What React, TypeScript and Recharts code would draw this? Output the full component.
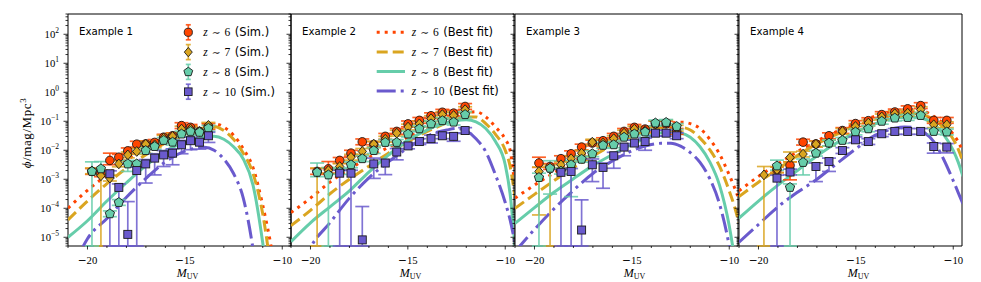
import React from 'react';
import { ComposedChart, Line, Scatter, ErrorBar, XAxis, YAxis, ReferenceArea, Legend } from 'recharts';

// ---- axes ----
const Y_MIN = 5e-6;
const Y_MAX = 500;
const X_MIN = -21;
const X_MAX = -9.55;
const X_TICKS = [-21, -20, -19, -18, -17, -16, -15, -14, -13, -12, -11, -10];
const X_MAJOR = [-20, -15, -10];
const Y_DECADES = [-6, -5, -4, -3, -2, -1, 0, 1, 2];

// ---- best-fit curves: log10(phi) on a shared magnitude grid ----
const FIT_M = [-21, -20, -19, -18, -17, -16, -15, -14, -13.5, -13, -12.5, -12, -11.5, -11, -10.5, -10, -9.75, -9.5];

const fit1z6 = [-4.0, -3.38, -2.85, -2.35, -1.92, -1.55, -1.3, -1.1, -1.08, -1.2, -1.48, -1.95, -2.6, -3.9, -5.6, -8, -9, -10];
const fit1z7 = [-4.4, -3.75, -3.15, -2.62, -2.15, -1.75, -1.45, -1.22, -1.18, -1.32, -1.62, -2.1, -2.8, -4.2, -6.5, -9, -10, -11];
const fit1z8 = [-5.0, -4.43, -3.75, -3.12, -2.53, -2.03, -1.73, -1.55, -1.52, -1.62, -1.88, -2.3, -3.2, -5.2, -8, -10, -11, -12];
const fit1z10 = [-6.5, -5.05, -4.35, -3.62, -2.97, -2.4, -2.03, -1.9, -2.0, -2.3, -2.8, -3.65, -5.4, -8, -10, -12, -13, -14];

const fit2z6 = [-4.15, -3.65, -3.1, -2.65, -2.25, -1.9, -1.55, -1.25, -1.1, -0.95, -0.82, -0.72, -0.67, -0.85, -1.2, -1.62, -2.0, -3.3];
const fit2z7 = [-4.6, -4.07, -3.5, -3.0, -2.55, -2.1, -1.7, -1.35, -1.2, -1.05, -0.93, -0.85, -0.85, -1.08, -1.45, -2.0, -2.55, -3.6];
const fit2z8 = [-5.15, -4.5, -3.95, -3.4, -2.75, -2.17, -1.65, -1.3, -1.15, -1.05, -0.97, -0.95, -1.02, -1.25, -1.7, -2.5, -3.5, -5.3];
const fit2z10 = [-7, -5.35, -4.5, -3.65, -2.95, -2.4, -1.92, -1.52, -1.38, -1.3, -1.25, -1.33, -1.6, -2.05, -2.85, -3.8, -4.4, -5.2];

const fit3z6 = [-3.65, -3.2, -2.78, -2.4, -2.03, -1.7, -1.42, -1.2, -1.12, -1.06, -1.03, -1.08, -1.25, -1.62, -2.13, -2.85, -3.25, -3.7];
const fit3z7 = [-4.0, -3.52, -3.05, -2.6, -2.2, -1.83, -1.52, -1.3, -1.22, -1.18, -1.2, -1.3, -1.58, -1.98, -2.55, -3.4, -3.9, -4.5];
const fit3z8 = [-4.52, -3.98, -3.45, -2.98, -2.53, -2.15, -1.8, -1.5, -1.4, -1.36, -1.4, -1.55, -1.88, -2.4, -3.2, -4.6, -5.6, -6.5];
const fit3z10 = [-5.5, -4.73, -4.02, -3.38, -2.8, -2.37, -2.02, -1.8, -1.76, -1.76, -1.86, -2.08, -2.42, -2.98, -3.85, -5.3, -6.3, -7.5];

const fit4z6 = [-3.4, -2.9, -2.47, -2.05, -1.68, -1.36, -1.07, -0.82, -0.72, -0.65, -0.6, -0.6, -0.65, -0.83, -1.08, -1.45, -1.7, -2.05];
const fit4z7 = [-3.6, -3.1, -2.65, -2.18, -1.78, -1.45, -1.15, -0.92, -0.83, -0.77, -0.72, -0.72, -0.78, -0.95, -1.22, -1.62, -1.95, -2.4];
const fit4z8 = [-4.34, -3.75, -3.2, -2.7, -2.2, -1.75, -1.38, -1.08, -0.97, -0.9, -0.86, -0.85, -0.92, -1.1, -1.45, -2.0, -2.4, -2.9];
const fit4z10 = [-5.17, -4.56, -3.95, -3.45, -3.0, -2.47, -1.95, -1.48, -1.33, -1.24, -1.2, -1.22, -1.38, -1.7, -2.3, -3.05, -3.45, -3.85];

// ---- simulated points: bin centres and log10(phi) ----
const bins1 = [-19.77, -19.31, -18.85, -18.39, -17.93, -17.47, -17.01, -16.55, -16.09, -15.63, -15.17, -14.71, -14.25, -13.79];
const sim1z6 = [-2.73, -2.81, -2.35, -2.24, -2.02, -1.79, -1.78, -1.73, -1.55, -1.5, -1.15, -1.21, -1.35, -1.18];
const sim1z7 = [-2.71, -2.88, -2.96, -2.47, -2.16, -2.04, -1.79, -1.81, -1.58, -1.52, -1.27, -1.27, -1.35, -1.14];
const sim1z8 = [-2.73, -2.64, -4.19, -3.8, -2.47, -2.47, -2.01, -1.87, -1.66, -1.72, -1.44, -1.35, -1.38, -1.24];
const sim1z10 = [null, null, -2.81, -3.28, -4.9, -2.7, -2.47, -2.27, -2.16, -2.1, -1.81, -1.67, -1.72, -1.5];

const bins2 = [-19.66, -19.08, -18.5, -17.92, -17.34, -16.75, -16.16, -15.57, -14.99, -14.41, -13.81, -13.23, -12.65, -12.06];
const sim2z6 = [-2.73, -2.64, -2.35, -2.1, -1.71, -1.8, -1.52, -1.35, -1.09, -0.97, -0.81, -0.69, -0.72, -0.49];
const sim2z7 = [-2.76, -2.7, -2.56, -2.24, -2.04, -1.79, -1.62, -1.41, -1.2, -1.09, -0.91, -0.77, -0.8, -0.6];
const sim2z8 = [-2.76, -2.85, -2.73, -2.5, -2.29, -2.01, -1.73, -1.73, -1.44, -1.26, -1.09, -0.98, -1.03, -0.77];
const sim2z10 = [null, null, -2.79, -2.79, -5.09, -2.47, -2.44, -2.06, -1.85, -1.7, -1.6, -1.5, -1.52, -1.32];

const bins3 = [-19.77, -19.2, -18.64, -18.12, -17.58, -17.03, -16.48, -15.93, -15.4, -14.87, -14.32, -13.79, -13.24, -12.7];
const sim3z6 = [-2.44, -2.56, -2.29, -2.12, -1.89, -1.75, -1.67, -1.52, -1.35, -1.21, -1.27, -1.09, -1.09, -1.35];
const sim3z7 = [-2.73, -2.65, -2.5, -2.29, -2.1, -1.72, -1.75, -1.6, -1.41, -1.27, -1.32, -1.09, -1.06, -1.24];
const sim3z8 = [-2.94, -2.62, -2.72, -2.5, -2.31, -2.12, -1.83, -1.81, -1.55, -1.44, -1.37, -1.06, -1.04, -1.18];
const sim3z10 = [null, null, -2.76, -2.73, -4.75, -2.5, -2.59, -2.19, -1.89, -1.75, -1.7, -1.41, -1.41, -1.5];

const bins4 = [-19.72, -19.05, -18.38, -17.71, -17.05, -16.38, -15.69, -15.02, -14.36, -13.67, -13.0, -12.34, -11.67, -11.0, -10.33];
const sim4z6 = [null, -2.67, -2.52, -1.72, -1.78, -1.5, -1.32, -1.08, -0.98, -0.77, -0.68, -0.57, -0.46, -0.97, -0.97];
const sim4z7 = [-2.85, -2.67, -2.25, -2.13, -1.79, -1.75, -1.35, -1.18, -1.06, -0.85, -0.74, -0.72, -0.6, -1.12, -1.12];
const sim4z8 = [null, -2.54, -3.28, -2.42, -2.1, -1.75, -1.66, -1.37, -1.26, -1.0, -0.89, -0.87, -0.8, -1.35, -1.37];
const sim4z10 = [null, -2.96, -2.75, null, -2.56, -2.39, -2.01, -1.64, -1.7, -1.43, -1.35, -1.35, -1.35, -1.87, -1.89];

// ---- error bars that differ from the default: [series, bin, down dex, up dex]; 9 = down to zero ----
const errs1 = [
  ['z6', 2, 0.15, 0.25], ['z7', 1, 9, 0.2], ['z8', 0, 9, 0.33], ['z8', 1, 0.2, 0.25], ['z8', 4, 0.26, 0.12],
  ['z10', 2, 9, 0.1], ['z10', 3, 9, 0.12], ['z10', 4, 9, 1.13], ['z10', 5, 9, 0.12], ['z10', 6, 0.66, 0.15],
  ['z10', 7, 0.58, 0.15], ['z10', 8, 0.4, 0.15], ['z10', 9, 0.4, 0.15], ['z10', 10, 0.31, 0.15],
  ['z10', 11, 0.31, 0.12], ['z10', 12, 0.24, 0.12], ['z10', 13, 0.23, 0.12],
];
const errs2 = [
  ['z6', 1, 0.15, 0.25], ['z7', 0, 9, 0.15], ['z8', 0, 0.15, 0.32], ['z8', 1, 9, 0.25],
  ['z10', 2, 9, 0.1], ['z10', 3, 9, 0.1], ['z10', 4, 9, 1.15], ['z10', 5, 0.5, 0.2], ['z10', 6, 0.4, 0.12],
  ['z10', 7, 0.27, 0.12], ['z10', 10, 0.15, 0.12], ['z10', 12, 0.17, 0.12],
];
const errs3 = [
  ['z6', 0, 0.15, 0.2], ['z7', 0, 1.5, 0.15], ['z8', 0, 9, 0.15], ['z7', 1, 9, 0.15], ['z8', 1, 0.89, 0.26],
  ['z8', 3, 1.1, 0.15], ['z10', 2, 9, 0.1], ['z10', 3, 9, 0.1], ['z10', 4, 9, 1.04], ['z10', 5, 0.58, 0.2],
  ['z10', 6, 0.72, 0.15], ['z10', 7, 0.43, 0.12], ['z10', 8, 0.3, 0.12], ['z10', 10, 0.3, 0.12],
];
const errs4 = [
  ['z7', 0, 9, 0.29], ['z10', 1, 9, 0.1], ['z8', 1, 0.15, 0.2], ['z8', 2, 9, 0.12], ['z6', 2, 0.5, 0.12],
  ['z7', 2, 0.15, 0.19], ['z8', 3, 0.43, 0.12], ['z10', 4, 0.52, 0.12], ['z10', 5, 0.34, 0.12],
  ['z10', 13, 0.23, 0.12], ['z10', 14, 0.2, 0.12],
];

const SERIES = [
  { key: 'z6', z: '6', color: '#FF4500', marker: 'circle', dash: '3 5' },
  { key: 'z7', z: '7', color: '#DAA520', marker: 'diamond', dash: '11 5' },
  { key: 'z8', z: '8', color: '#66CDAA', marker: 'pentagon', dash: undefined },
  { key: 'z10', z: '10', color: '#6A5ACD', marker: 'square', dash: '19 5 3 5' },
];

const PANELS = [
  { name: 'Example 1', left: 68, bins: bins1, sim: [sim1z6, sim1z7, sim1z8, sim1z10], fit: [fit1z6, fit1z7, fit1z8, fit1z10], errs: errs1 },
  { name: 'Example 2', left: 291, bins: bins2, sim: [sim2z6, sim2z7, sim2z8, sim2z10], fit: [fit2z6, fit2z7, fit2z8, fit2z10], errs: errs2 },
  { name: 'Example 3', left: 515, bins: bins3, sim: [sim3z6, sim3z7, sim3z8, sim3z10], fit: [fit3z6, fit3z7, fit3z8, fit3z10], errs: errs3 },
  { name: 'Example 4', left: 739, bins: bins4, sim: [sim4z6, sim4z7, sim4z8, sim4z10], fit: [fit4z6, fit4z7, fit4z8, fit4z10], errs: errs4 },
];

const PLOT_W = 223;
const PLOT_TOP = 14;
const PLOT_BOTTOM = 246;
const RIGHT_PAD = 14;
const SERIF = '"Liberation Serif", serif';
const SANS = '"DejaVu Sans", sans-serif';
const MINUS = '\u2212';

const Y_TICKS: number[] = [];
Y_DECADES.forEach((e) => {
  for (let k = 1; k <= 9; k++) {
    const v = k * Math.pow(10, e);
    if (v >= Y_MIN * 0.999 && v <= Y_MAX * 1.001) Y_TICKS.push(v);
  }
});

function fitData(logs: number[]) {
  return FIT_M.map((m, i) => ({ m, v: Math.pow(10, logs[i]) }));
}

function simData(bins: number[], logs: (number | null)[], key: string, errs: any[]) {
  const out: any[] = [];
  bins.forEach((m, i) => {
    const L = logs[i];
    if (L == null) return;
    const o = errs.find((e) => e[0] === key && e[1] === i);
    const down = o ? o[2] : 0.1;
    const up = o ? o[3] : 0.1;
    const v = Math.pow(10, L);
    const lo = down >= 9 ? v - Y_MIN : v - Math.pow(10, L - down);
    const hi = Math.pow(10, L + up) - v;
    out.push({ m, v, err: [lo, hi] });
  });
  return out;
}

function Marker({ cx, cy, kind, color, scale = 1 }: any) {
  const st = { fill: color, stroke: '#1a1a1a', strokeWidth: 0.9 };
  if (cx == null || cy == null) return null;
  if (kind === 'circle') return <circle cx={cx} cy={cy} r={4.3 * scale} {...st} />;
  if (kind === 'diamond') {
    const a = 4.9 * scale;
    const b = 4.2 * scale;
    return <polygon points={`${cx},${cy - a} ${cx + b},${cy} ${cx},${cy + a} ${cx - b},${cy}`} {...st} />;
  }
  if (kind === 'pentagon') {
    const r = 4.9 * scale;
    const pts = [0, 1, 2, 3, 4]
      .map((k) => {
        const ang = (-90 + 72 * k) * (Math.PI / 180);
        return `${cx + r * Math.cos(ang)},${cy + r * Math.sin(ang)}`;
      })
      .join(' ');
    return <polygon points={pts} {...st} />;
  }
  const s = 4.0 * scale;
  return <rect x={cx - s} y={cy - s} width={2 * s} height={2 * s} {...st} />;
}

function XTick({ x, y, payload }: any) {
  const v = payload.value;
  const major = X_MAJOR.includes(v);
  return (
    <g>
      <line x1={x} x2={x} y1={y} y2={y + (major ? 3.5 : 2)} stroke="#000" strokeWidth={0.8} />
      {major && (
        <text x={x} y={y + 18} textAnchor="middle" fontSize={10.7} fontFamily={SERIF} fill="#000">
          <tspan fontFamily={SANS}>{MINUS}</tspan>
          {Math.abs(v)}
        </text>
      )}
    </g>
  );
}

function YTick({ x, y, payload, showLabel }: any) {
  const lg = Math.log10(payload.value);
  const e = Math.round(lg);
  const major = Math.abs(lg - e) < 1e-6;
  return (
    <g>
      <line x1={x - (major ? 4.5 : 2.5)} x2={x} y1={y} y2={y} stroke="#000" strokeWidth={0.8} />
      {major && showLabel && (
        <text x={x - 9} y={y + 3.5} textAnchor="end" fontSize={10.7} fontFamily={SERIF} fill="#000">
          10
          <tspan dy={-4.5} fontSize={7.5}>
            {e < 0 ? MINUS + Math.abs(e) : String(e)}
          </tspan>
        </text>
      )}
    </g>
  );
}

function XLabel({ plotLeft }: any) {
  return (
    <text x={plotLeft + PLOT_W / 2 + 8} y={276.5} textAnchor="middle" fontFamily={SERIF} fill="#000">
      <tspan fontStyle="italic" fontSize={12}>M</tspan>
      <tspan fontSize={8} dy={2.5}>UV</tspan>
    </text>
  );
}

function YLabel() {
  return (
    <text
      transform="translate(31,133) rotate(-90)"
      textAnchor="middle"
      fontFamily={SERIF}
      fontSize={13}
      letterSpacing={0.6}
      fill="#000"
    >
      <tspan fontStyle="italic">ϕ</tspan>/mag/Mpc
      <tspan dy={-5} fontSize={9}>3</tspan>
    </text>
  );
}

function PanelName({ plotLeft, name }: any) {
  return (
    <text x={plotLeft + 11} y={35} fontFamily={SANS} fontSize={10.2} fill="#000">
      {name}
    </text>
  );
}

function ZLabel({ x, y, z, tail }: any) {
  return (
    <text x={x} y={y} fontSize={11.5} fill="#000">
      <tspan fontFamily={SERIF} fontStyle="italic">z</tspan>
      <tspan dx={4} fontFamily='"DejaVu Serif", serif' fontSize={10.5}>∼</tspan>
      <tspan dx={4} fontFamily={SERIF}>{z}</tspan>
      <tspan dx={4.5} fontFamily={SANS}>{tail}</tspan>
    </text>
  );
}

function SimLegend() {
  return (
    <svg width={110} height={86}>
      {SERIES.map((s, i) => {
        const cy = 10.3 + i * 19.8;
        return (
          <g key={s.key}>
            <line x1={10.3} x2={10.3} y1={cy - 7.5} y2={cy + 7.5} stroke={s.color} strokeWidth={1.7} strokeOpacity={0.85} />
            <line x1={7.8} x2={12.8} y1={cy - 7.5} y2={cy - 7.5} stroke={s.color} strokeWidth={1.7} strokeOpacity={0.85} />
            <line x1={7.8} x2={12.8} y1={cy + 7.5} y2={cy + 7.5} stroke={s.color} strokeWidth={1.7} strokeOpacity={0.85} />
            <Marker cx={10.3} cy={cy} kind={s.marker} color={s.color} scale={0.95} />
            <ZLabel x={25.3} y={cy + 4} z={s.z} tail="(Sim.)" />
          </g>
        );
      })}
    </svg>
  );
}

function FitLegend() {
  return (
    <svg width={140} height={86}>
      {SERIES.map((s, i) => {
        const cy = 10.3 + i * 19.6;
        return (
          <g key={s.key}>
            <line x1={6.7} x2={35} y1={cy} y2={cy} stroke={s.color} strokeWidth={3} strokeDasharray={s.dash} />
            <ZLabel x={41.7} y={cy + 4} z={s.z} tail="(Best fit)" />
          </g>
        );
      })}
    </svg>
  );
}

function Panel({ idx, p }: any) {
  const first = idx === 0;
  const yw = first ? 68 : 10;
  const chartLeft = p.left - yw;
  return (
    <div style={{ position: 'absolute', left: chartLeft, top: 0 }}>
      <ComposedChart
        width={yw + PLOT_W + RIGHT_PAD}
        height={282}
        margin={{ top: PLOT_TOP, right: RIGHT_PAD, bottom: 0, left: 0 }}
      >
        <XAxis
          type="number"
          dataKey="m"
          domain={[X_MIN, X_MAX]}
          allowDataOverflow
          ticks={X_TICKS}
          interval={0}
          tickLine={false}
          axisLine={false}
          tickSize={0}
          tickMargin={0}
          height={282 - PLOT_BOTTOM}
          tick={(props: any) => <XTick {...props} />}
          label={<XLabel plotLeft={yw} />}
        />
        <YAxis
          type="number"
          dataKey="v"
          scale="log"
          domain={[Y_MIN, Y_MAX]}
          allowDataOverflow
          ticks={Y_TICKS}
          interval={0}
          tickLine={false}
          axisLine={false}
          tickSize={0}
          tickMargin={0}
          width={yw}
          tick={(props: any) => <YTick {...props} showLabel={first} />}
          label={first ? <YLabel /> : undefined}
        />
        {SERIES.map((s, k) => (
          <Line
            key={'fit-' + s.key}
            data={fitData(p.fit[k])}
            dataKey="v"
            type="monotone"
            stroke={s.color}
            strokeWidth={3}
            strokeDasharray={s.dash}
            dot={false}
            activeDot={false}
            isAnimationActive={false}
          />
        ))}
        {SERIES.map((s, k) => (
          <Scatter
            key={'sim-' + s.key}
            data={simData(p.bins, p.sim[k], s.key, p.errs)}
            dataKey="v"
            fill={s.color}
            isAnimationActive={false}
            shape={(props: any) => <Marker cx={props.cx} cy={props.cy} kind={s.marker} color={s.color} />}
          >
            <ErrorBar
              dataKey="err"
              direction="y"
              width={7}
              stroke={s.color}
              strokeWidth={1.7}
              strokeOpacity={0.85}
              isAnimationActive={false}
            />
          </Scatter>
        ))}
        <ReferenceArea
          x1={X_MIN}
          x2={X_MAX}
          y1={Y_MIN}
          y2={Y_MAX}
          ifOverflow="visible"
          fill="none"
          stroke="#000"
          strokeWidth={1}
          label={<PanelName plotLeft={yw} name={p.name} />}
        />
        {idx === 0 && (
          <Legend
            layout="vertical"
            align="center"
            verticalAlign="middle"
            wrapperStyle={{ left: 178, top: 22, width: 110, height: 86 }}
            content={() => <SimLegend />}
          />
        )}
        {idx === 1 && (
          <Legend
            layout="vertical"
            align="center"
            verticalAlign="middle"
            wrapperStyle={{ left: 89, top: 22, width: 140, height: 86 }}
            content={() => <FitLegend />}
          />
        )}
      </ComposedChart>
    </div>
  );
}

export default function App() {
  return (
    <div style={{ position: 'relative', width: 981, height: 282, background: '#fff', overflow: 'hidden' }}>
      <style>{'body{margin:0}'}</style>
      {PANELS.map((p, i) => (
        <Panel key={p.name} idx={i} p={p} />
      ))}
    </div>
  );
}
